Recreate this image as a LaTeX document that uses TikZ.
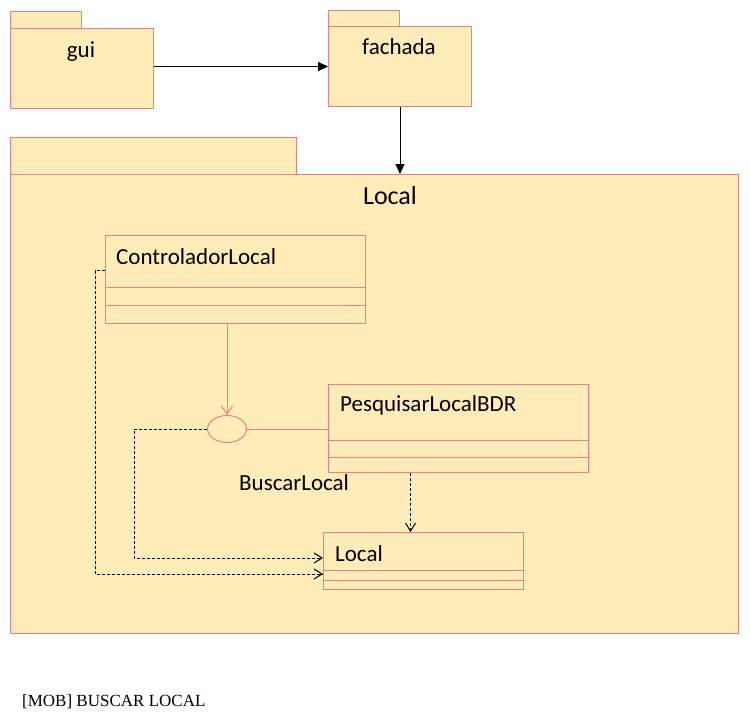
\documentclass[tikz,border=0pt]{standalone}
\usepackage{fontspec}
\setmainfont{Carlito}
\newfontfamily\capfont{Liberation Serif}
\usetikzlibrary{arrows.meta,shapes.geometric}
\definecolor{pkfill}{RGB}{255,236,184}
\definecolor{pkline}{RGB}{240,128,128}
\tikzset{
  box/.style={draw=pkline,fill=pkfill,line width=1pt,rectangle,inner sep=0pt,anchor=north west},
  pk/.style={draw=pkline,line width=1pt},
  txt/.style={inner sep=0pt,font=\fontsize{23}{27}\selectfont},
  dep/.style={draw=black,line width=1pt,dash pattern=on 3pt off 2pt,-{Straight Barb[length=8pt,width=10pt]}},
  solidarr/.style={draw=black,line width=1pt,-{Triangle[length=10pt,width=9pt]}},
}
\begin{document}
\begin{tikzpicture}[x=1pt,y=-1pt]
\path[use as bounding box,fill=white] (0,0) rectangle (751,718);
% packages
\node[box,minimum width=71pt,minimum height=17pt] (guitab) at (10,11) {};
\node[box,minimum width=143pt,minimum height=80pt] (guibody) at (10,28) {};
\node[txt,anchor=base] (guilbl) at (81,57) {gui};
\node[box,minimum width=71pt,minimum height=16pt] (fachtab) at (328,10) {};
\node[box,minimum width=143pt,minimum height=80pt] (fachbody) at (328,26) {};
\node[txt,anchor=base] (fachlbl) at (399,54) {fachada};
\node[box,minimum width=286pt,minimum height=37pt] (loctab) at (10,137) {};
\node[box,minimum width=728pt,minimum height=459pt] (locbody) at (10,174) {};
\node[inner sep=0pt,anchor=base,font=\fontsize{26}{30}\selectfont] (loclbl) at (390,204) {Local};
% classes
\node[box,minimum width=260pt,minimum height=88pt] (ctl) at (105,235) {};
\draw[pk] ([yshift=-52pt]ctl.north west) -- ([yshift=-52pt]ctl.north east);
\draw[pk] ([yshift=-70pt]ctl.north west) -- ([yshift=-70pt]ctl.north east);
\node[txt,anchor=base west] (ctllbl) at (116,264) {ControladorLocal};
\node[box,minimum width=260pt,minimum height=88pt] (pesq) at (328,384) {};
\draw[pk] ([yshift=-56pt]pesq.north west) -- ([yshift=-56pt]pesq.north east);
\draw[pk] ([yshift=-73pt]pesq.north west) -- ([yshift=-73pt]pesq.north east);
\node[txt,anchor=base west] (pesqlbl) at (340,411) {PesquisarLocalBDR};
\node[box,minimum width=200pt,minimum height=57pt] (localc) at (323,532) {};
\draw[pk] ([yshift=-38pt]localc.north west) -- ([yshift=-38pt]localc.north east);
\draw[pk] ([yshift=-48pt]localc.north west) -- ([yshift=-48pt]localc.north east);
\node[txt,anchor=base west] (localclbl) at (335,561) {Local};
% interface
\node[draw=pkline,fill=pkfill,line width=1pt,ellipse,inner sep=0pt,minimum width=39pt,minimum height=27pt] (iface) at (227,429) {};
\node[txt,anchor=base west] (ifacelbl) at (239,490) {BuscarLocal};
% connectors
\draw[solidarr] (guibody.east |- fachbody.west) -- (fachbody.west);
\draw[solidarr] (fachbody.south) -- (fachbody.south |- locbody.north);
\draw[pk,-{Straight Barb[length=8pt,width=11pt]}] (iface.north |- ctl.south) -- (iface.north);
\draw[pk] (iface.east) -- (pesq.west |- iface.east);
\coordinate (c1) at (134,558);
\coordinate (c2) at (95,574);
\draw[dep] (iface.west) -| (c1) -- (c1 -| localc.west);
\draw[dep] ([yshift=9pt]ctl.west) -| (c2) -- (c2 -| localc.west);
\draw[dep] ([xshift=-48pt]pesq.south) -- ([xshift=-48pt]pesq.south |- localc.north);
% caption
\node[inner sep=0pt,anchor=base west,font=\capfont\fontsize{17}{20}\selectfont] (caption) at (22,706) {[MOB] BUSCAR LOCAL};
\end{tikzpicture}
\end{document}
